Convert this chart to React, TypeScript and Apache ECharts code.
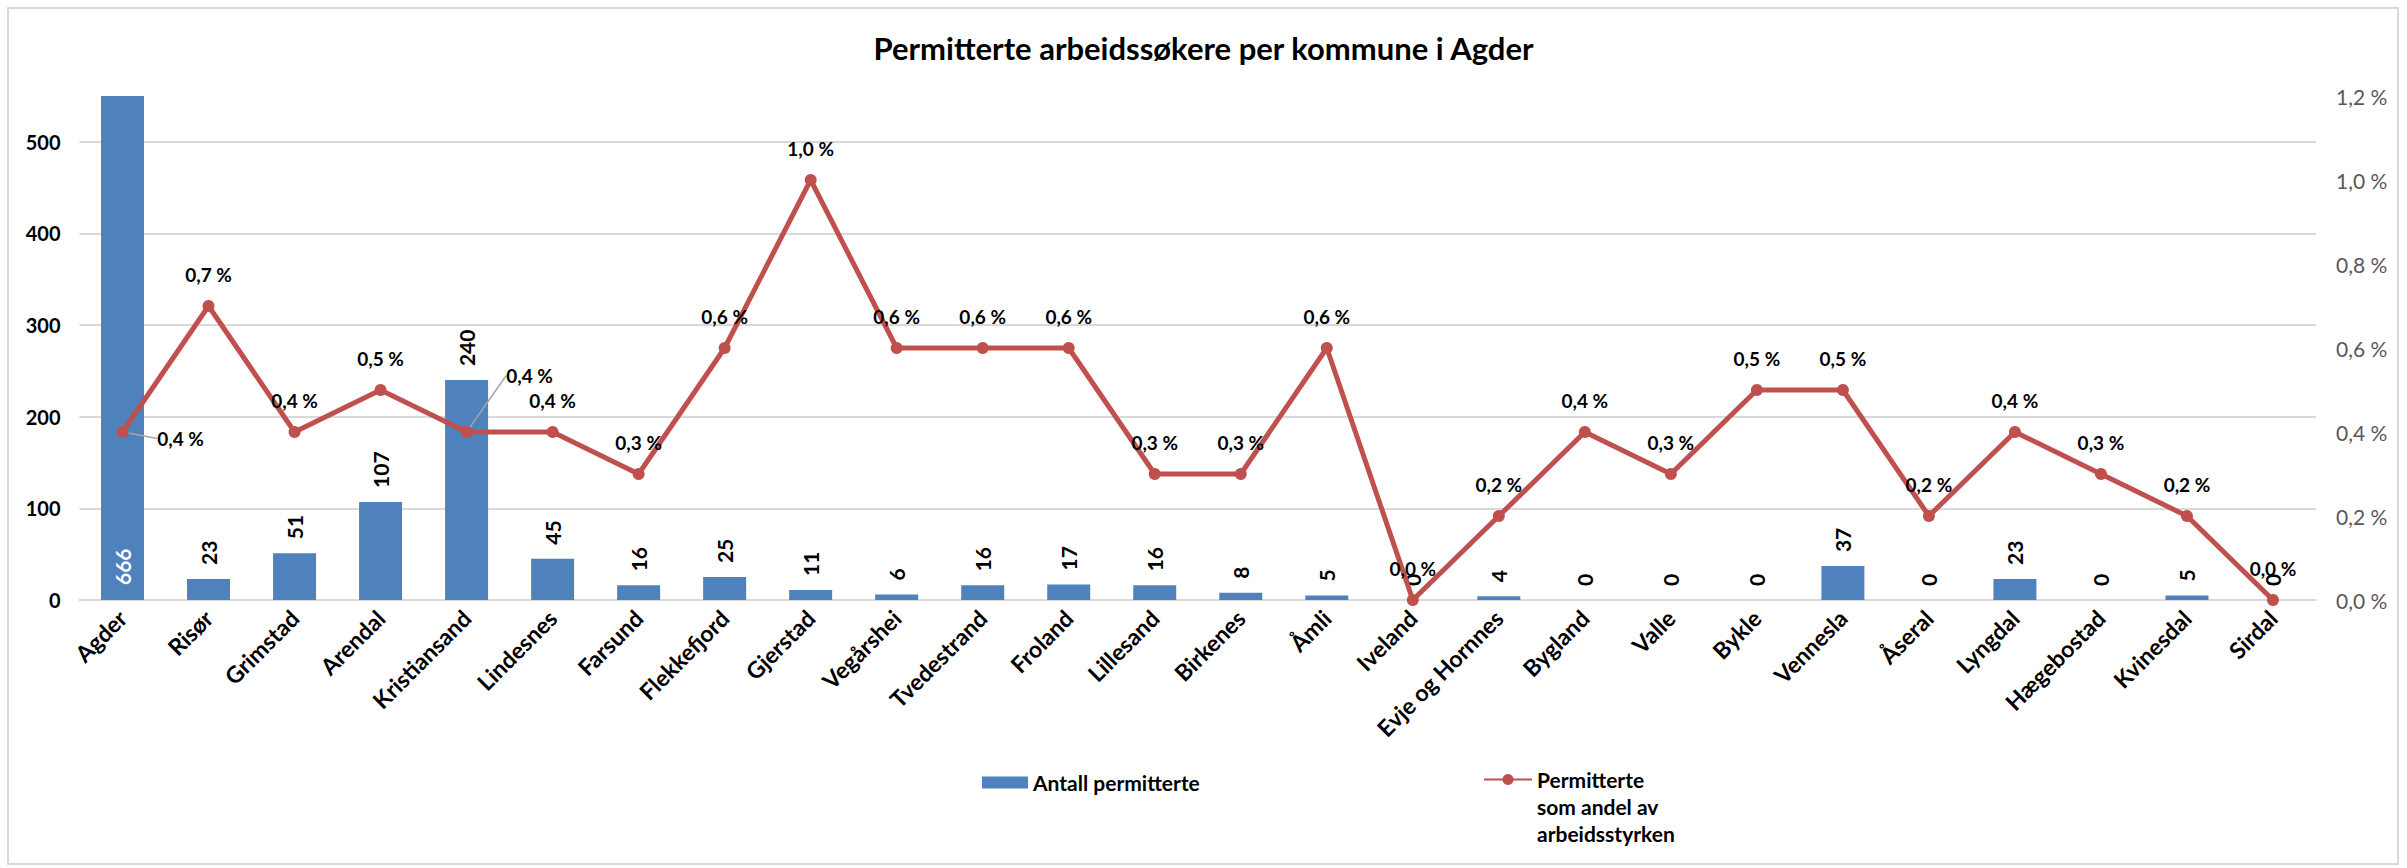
import React, { useEffect, useRef } from 'react';
import * as echarts from 'echarts';

const categories = [
  'Agder', 'Risør', 'Grimstad', 'Arendal', 'Kristiansand', 'Lindesnes', 'Farsund',
  'Flekkefjord', 'Gjerstad', 'Vegårshei', 'Tvedestrand', 'Froland', 'Lillesand',
  'Birkenes', 'Åmli', 'Iveland', 'Evje og Hornnes', 'Bygland', 'Valle', 'Bykle',
  'Vennesla', 'Åseral', 'Lyngdal', 'Hægebostad', 'Kvinesdal', 'Sirdal',
];
const antallPermitterte = [
  666, 23, 51, 107, 240, 45, 16, 25, 11, 6, 16, 17, 16, 8, 5, 0, 4, 0, 0, 0, 37, 0, 23, 0, 5, 0,
];
const andelArbeidsstyrken = [
  0.4, 0.7, 0.4, 0.5, 0.4, 0.4, 0.3, 0.6, 1.0, 0.6, 0.6, 0.6, 0.3, 0.3, 0.6, 0.0, 0.2, 0.4, 0.3,
  0.5, 0.5, 0.2, 0.4, 0.3, 0.2, 0.0,
];
const leftAxis = { min: 0, max: 550, interval: 100 };
const rightAxis = { min: 0, max: 1.2, interval: 0.2 };

const barName = 'Antall permitterte';
const lineName = 'Permitterte som andel av arbeidsstyrken';
const lineLegendText = '\n\nPermitterte\nsom andel av\narbeidsstyrken';
const titleText = 'Permitterte arbeidssøkere per kommune i Agder';

export default function App() {
  const ref = useRef<HTMLDivElement>(null);
  useEffect(() => {
    const chart = echarts.init(ref.current!, null, { renderer: 'svg' });
    const font = 'Lato, "Open Sans", sans-serif';
    const pct = (v: number) => v.toFixed(1).replace('.', ',') + ' %';
    const grid = '#d9d9d9';

    const lineData = andelArbeidsstyrken.map((v, i) =>
      i === 0 || i === 4
        ? { value: v, labelLine: { show: true, lineStyle: { color: '#a6a6a6', width: 1.5 } } }
        : v
    );
    const barLabelData = antallPermitterte.map((v, i) => [i, v]);

    chart.setOption({
      animation: false,
      backgroundColor: '#ffffff',
      title: {
        text: titleText,
        left: 'center',
        top: 27,
        textStyle: { fontFamily: font, fontWeight: 'bold', fontSize: 31, color: '#000' },
      },
      graphic: [
        {
          type: 'rect',
          silent: true,
          z: -1,
          shape: { x: 8, y: 8, width: 2390, height: 856 },
          style: { fill: 'none', stroke: grid, lineWidth: 2 },
        },
      ],
      legend: [
        {
          data: [{ name: barName, icon: 'rect' }],
          left: 982,
          top: 772,
          padding: 0,
          itemWidth: 46,
          itemHeight: 12,
          textStyle: { fontFamily: font, fontWeight: 'bold', fontSize: 21, color: '#000' },
        },
        {
          data: [lineName],
          left: 1483,
          top: 712,
          padding: 0,
          itemWidth: 48,
          itemHeight: 14,
          formatter: () => lineLegendText,
          textStyle: {
            fontFamily: font,
            fontWeight: 'bold',
            fontSize: 21,
            color: '#000',
            lineHeight: 27,
          },
        },
      ],
      grid: { left: 79.5, right: 91, top: 96, bottom: 268, containLabel: false },
      xAxis: {
        type: 'category',
        data: categories,
        axisLine: { show: true, lineStyle: { color: grid, width: 2 } },
        axisTick: { show: false },
        axisLabel: {
          rotate: 45,
          interval: 0,
          margin: 14,
          fontFamily: font,
          fontWeight: 'bold',
          fontSize: 23,
          color: '#000',
        },
      },
      yAxis: [
        {
          type: 'value',
          min: leftAxis.min,
          max: leftAxis.max,
          interval: leftAxis.interval,
          axisLine: { show: false },
          axisTick: { show: false },
          axisLabel: {
            showMaxLabel: false,
            margin: 19,
            fontFamily: font,
            fontWeight: 'bold',
            fontSize: 20,
            color: '#000',
          },
          splitLine: { show: true, showMaxLine: false, lineStyle: { color: grid, width: 2 } },
        },
        {
          type: 'value',
          min: rightAxis.min,
          max: rightAxis.max,
          interval: rightAxis.interval,
          axisLine: { show: false },
          axisTick: { show: false },
          splitLine: { show: false },
          axisLabel: {
            margin: 20,
            fontFamily: font,
            fontSize: 21,
            color: '#595959',
            formatter: (v: number) => pct(v),
          },
        },
      ],
      series: [
        {
          name: barName,
          type: 'bar',
          data: antallPermitterte,
          barWidth: 43,
          clip: true,
          itemStyle: { color: '#4F81BD' },
          label: { show: false },
        },
        {
          name: 'barLabels',
          type: 'custom',
          silent: true,
          z: 4,
          data: barLabelData,
          encode: { x: 0, y: 1 },
          renderItem: (params: any, api: any) => {
            const idx = api.value(0);
            const v = api.value(1);
            const inside = params.dataIndex === 0;
            const pt = api.coord([idx, inside ? 0 : v]);
            return {
              type: 'text',
              x: pt[0],
              y: pt[1] - (inside ? 15 : 14),
              rotation: Math.PI / 2,
              style: {
                text: String(v),
                fill: inside ? '#ffffff' : '#000000',
                fontFamily: font,
                fontWeight: 'bold',
                fontSize: 21,
                align: 'left',
                verticalAlign: 'middle',
              },
            };
          },
        },
        {
          name: lineName,
          type: 'line',
          yAxisIndex: 1,
          data: lineData,
          symbol: 'circle',
          symbolSize: 12,
          z: 5,
          lineStyle: { color: '#C0504D', width: 5 },
          itemStyle: { color: '#C0504D' },
          label: {
            show: true,
            position: 'top',
            distance: 16,
            fontFamily: font,
            fontWeight: 'bold',
            fontSize: 19,
            color: '#000',
            formatter: (p: any) => pct(p.value),
          },
          labelLayout: (p: any) => {
            if (p.dataIndex === 0) return { dx: 58, dy: 38 };
            if (p.dataIndex === 4) return { dx: 63, dy: -25 };
            return {};
          },
        },
      ],
    });
    return () => chart.dispose();
  }, []);
  return (
    <div
      ref={ref}
      style={{ position: 'fixed', left: 0, top: 0, width: 2407, height: 868, background: '#fff' }}
    />
  );
}
